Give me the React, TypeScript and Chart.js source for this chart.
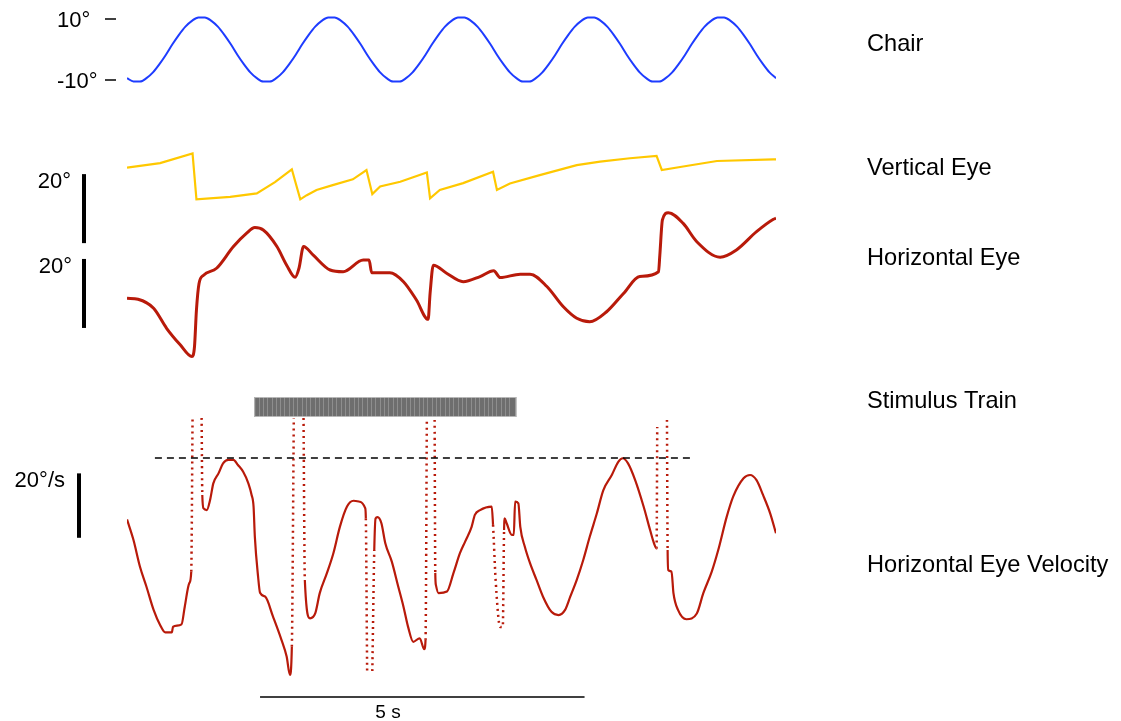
import React, { useEffect, useRef } from "react";
import { Chart, registerables } from "chart.js";

Chart.register(...registerables);

// ---------------- data ----------------
// time axis in seconds
const timeMin = 0;
const timeMax = 10;

// Chair position (deg), sampled every 0.1 s
const chairStep = 0.1;
const chairDeg = [
  -9.4, -10.5, -10.5, -9.4, -7.5, -4.8, -1.7, 1.7, 4.8, 7.5, 9.4, 10.5, 10.5, 9.4, 7.5, 4.8, 1.7, -1.7, -4.8, -7.5,
  -9.4, -10.5, -10.5, -9.4, -7.5, -4.8, -1.7, 1.7, 4.8, 7.5, 9.4, 10.5, 10.5, 9.4, 7.5, 4.8, 1.7, -1.7, -4.8, -7.5,
  -9.4, -10.5, -10.5, -9.4, -7.5, -4.8, -1.7, 1.7, 4.8, 7.5, 9.4, 10.5, 10.5, 9.4, 7.5, 4.8, 1.7, -1.7, -4.8, -7.5,
  -9.4, -10.5, -10.5, -9.4, -7.5, -4.8, -1.7, 1.7, 4.8, 7.5, 9.4, 10.5, 10.5, 9.4, 7.5, 4.8, 1.7, -1.7, -4.8, -7.5,
  -9.4, -10.5, -10.5, -9.4, -7.5, -4.8, -1.7, 1.7, 4.8, 7.5, 9.4, 10.5, 10.5, 9.4, 7.5, 4.8, 1.7, -1.7, -4.8, -7.5,
  -9.4,
];
const chairTicks = [10, -10];

// Vertical eye position (deg)
const vertT = [0, 0.51, 1.01, 1.07, 1.59, 2.0, 2.28, 2.54, 2.59, 2.67, 2.77, 2.92, 3.17, 3.48, 3.69, 3.78, 3.9, 4.21, 4.62, 4.67, 4.82, 5.18, 5.64, 5.7, 5.9, 6.36, 6.93, 7.29, 7.75, 8.16, 8.24, 8.57, 9.09, 9.96, 10.0];
const vertDeg = [9.4, 10.7, 13.5, 0.2, 0.9, 1.9, 5.2, 8.9, 5.5, 0.2, 1.4, 2.9, 4.3, 6.0, 8.7, 1.7, 3.9, 5.3, 8.0, 0.5, 2.9, 4.9, 8.2, 2.9, 4.8, 7.2, 10.1, 11.1, 12.1, 12.8, 8.7, 9.7, 11.3, 11.8, 11.8];

// Horizontal eye position (deg)
const horT = [0, 0.17, 0.41, 0.61, 0.82, 1.0, 1.04, 1.07, 1.11, 1.18, 1.38, 1.64, 1.84, 1.97, 2.1, 2.31, 2.46, 2.59, 2.65, 2.72, 2.87, 3.13, 3.33, 3.64, 3.73, 3.77, 4.05, 4.26, 4.46, 4.64, 4.67, 4.72, 4.93, 5.18, 5.44, 5.65, 5.75, 6.06, 6.21, 6.47, 6.72, 6.93, 7.13, 7.39, 7.65, 7.9, 8.19, 8.21, 8.25, 8.34, 8.57, 8.78, 9.14, 9.39, 9.7, 9.96, 10.0];
const horDeg = [-2.4, -2.7, -5.3, -11.1, -15.9, -19.3, -16.4, -5.8, 1.9, 4.3, 6.3, 12.6, 16.4, 18.1, 17.4, 12.6, 7.2, 3.7, 6.3, 12.6, 10.1, 5.8, 5.3, 8.7, 8.7, 5.0, 5.0, 2.4, -2.9, -8.5, -1.0, 7.2, 4.8, 2.4, 3.9, 5.6, 3.6, 4.6, 4.6, 1.0, -4.8, -8.2, -9.2, -6.3, -1.0, 3.9, 5.3, 10.1, 20.3, 22.4, 19.3, 14.0, 9.5, 11.6, 16.9, 20.5, 20.8];

// Horizontal eye velocity (deg/s); null = off the displayed range
const velT = [
  0, 0.1, 0.2, 0.3, 0.41, 0.51, 0.59, 0.69, 0.71, 0.84, 0.89, 0.96, 0.99,
  1.01, 1.08, 1.15, 1.16,
  1.18, 1.23, 1.28, 1.33, 1.41, 1.48, 1.56, 1.64, 1.71, 1.79, 1.87, 1.92, 1.95, 1.97, 2.02, 2.05, 2.13, 2.25, 2.38, 2.46, 2.51, 2.54,
  2.57, 2.65, 2.72, 2.74,
  2.82, 2.9, 2.97, 3.08, 3.18, 3.28, 3.39, 3.49, 3.59, 3.67, 3.68,
  3.7, 3.74, 3.78, 3.81,
  3.83, 3.86, 3.92, 3.98, 4.08, 4.18, 4.26, 4.33, 4.41, 4.51, 4.58, 4.6,
  4.62, 4.68, 4.74, 4.75,
  4.76, 4.8, 4.93, 5.03, 5.13, 5.21, 5.31, 5.36, 5.44, 5.62, 5.64,
  5.68, 5.75, 5.79, 5.81,
  5.82, 5.85, 5.93, 5.96, 5.98, 6.03, 6.06, 6.13, 6.21, 6.31, 6.41, 6.54, 6.65, 6.75, 6.83, 6.93, 7.03, 7.13, 7.24, 7.34, 7.47, 7.57, 7.64, 7.72, 7.83, 7.96, 8.06, 8.12, 8.16,
  8.17, 8.25, 8.32, 8.33,
  8.34, 8.39, 8.42, 8.49, 8.62, 8.78, 8.88, 9.01, 9.11, 9.24, 9.34, 9.5, 9.6, 9.7, 9.8, 9.91, 10.0,
];
const velDegS: (number | null)[] = [
  6.7, 0.3, -8.0, -14.2, -21.4, -26.1, -28.4, -28.4, -26.6, -25.9, -20.4, -13.1, -9.5,
  38.2, null, 38.2, 14.3,
  10.1, 9.6, 12.7, 17.9, 21.0, 24.1, 25.2, 25.2, 23.6, 21.5, 17.9, 14.3, 10.7, 1.3, -11.1, -16.1, -17.3, -23.5, -30.7, -35.9, -41.6, -32.8,
  38.2, null, 38.2, -12.1,
  -24.0, -22.5, -16.2, -10.0, -3.8, 4.4, 10.7, 12.5, 12.2, 10.2, 7.0,
  -40.4, null, -40.4, -2.8,
  7.0, 7.4, 5.5, -0.7, -6.4, -14.2, -20.4, -26.6, -31.3, -30.2, -33.6, -30.7,
  37.6, null, 37.6, -9.9,
  -13.7, -16.2, -15.7, -10.0, -3.8, -0.2, 4.4, 8.1, 9.6, 10.7, 5.0,
  -12.1, -26.7, -26.7, 3.4,
  7.0, 5.5, 1.9, 1.9, 12.2, 11.7, 4.4, -1.8, -6.9, -12.1, -17.3, -22.0, -23.0, -21.4, -17.3, -12.1, -5.9, 1.3, 8.6, 15.8, 20.5, 24.6, 25.7, 24.1, 18.9, 10.7, 3.4, -0.7, -2.3,
  35.4, null, 37.6, -2.8,
  -9.0, -9.5, -16.2, -21.4, -24.3, -22.5, -16.2, -9.5, -2.8, 7.5, 13.8, 19.5, 20.5, 18.9, 14.3, 8.6, 2.4,
];
// quick-phase (saccade) intervals drawn dotted, seconds
const saccadeStart = [0.99, 2.54, 3.68, 4.6, 5.64, 8.16];
const saccadeEnd = [1.16, 2.74, 3.81, 4.75, 5.81, 8.33];

// threshold line (deg/s) and its time span
const velThreshold = 25.8;
const thresholdFrom = 0.43;
const thresholdTo = 8.73;

// stimulus train
const stimStart = 1.96;
const stimEnd = 6.0;
const stimRateHz = 15;

// scale bars
const timeBarStart = 2.05;
const timeBarLength = 5;
const timeBarLabel = "5 s";
const vertBar = [-12.5, 7.5];
const horBar = [-11, 9];
const velBar = [1, 21];
const vertBarLabel = "20°";
const horBarLabel = "20°";
const velBarLabel = "20°/s";

const traceLabels = ["Chair", "Vertical Eye", "Horizontal Eye", "Stimulus Train", "Horizontal Eye Velocity"];

// ---------------- layout ----------------
const W = 1121;
const H = 721;
const PLOT_LEFT = 127;
const PLOT_RIGHT = 776;
const band = (zeroPx: number, pxPerUnit: number) => ({
  min: (zeroPx - H) / pxPerUnit,
  max: zeroPx / pxPerUnit,
});
const RED = "#b81a0a";
const FONT = '"Liberation Sans", Arial, Helvetica, sans-serif';
const labelBaselines = [51, 175, 265, 408, 572];
const LABEL_X = 867;

const annotations = {
  id: "annotations",
  afterDatasetsDraw(chart: any) {
    const { ctx, scales } = chart;
    const xs = scales.x;
    ctx.save();
    ctx.fillStyle = "#000";
    ctx.strokeStyle = "#000";
    ctx.textBaseline = "alphabetic";

    // chair ticks
    ctx.font = `22px ${FONT}`;
    ctx.textAlign = "left";
    chairTicks.forEach((v) => {
      const y = scales.yChair.getPixelForValue(v);
      ctx.fillText(`${v}°`, 57, y + 8);
      ctx.lineWidth = 1.5;
      ctx.beginPath();
      ctx.moveTo(105, y);
      ctx.lineTo(116, y);
      ctx.stroke();
    });

    // vertical scale bars
    const bars: [any, number[], string, number, number][] = [
      [scales.yVert, vertBar, vertBarLabel, 84, 71],
      [scales.yHor, horBar, horBarLabel, 84, 72],
      [scales.yVel, velBar, velBarLabel, 79, 65],
    ];
    ctx.textAlign = "right";
    bars.forEach(([sc, range, label, bx, lx]) => {
      const y0 = sc.getPixelForValue(range[1]);
      const y1 = sc.getPixelForValue(range[0]);
      ctx.fillRect(bx - 2, y0, 4, y1 - y0);
      ctx.fillText(label, lx, y0 + 14);
    });

    // threshold dashed line
    const ty = scales.yVel.getPixelForValue(velThreshold);
    ctx.setLineDash([7, 5]);
    ctx.lineWidth = 1.5;
    ctx.beginPath();
    ctx.moveTo(xs.getPixelForValue(thresholdFrom), ty);
    ctx.lineTo(xs.getPixelForValue(thresholdTo), ty);
    ctx.stroke();
    ctx.setLineDash([]);

    // stimulus train
    const sx0 = xs.getPixelForValue(stimStart);
    const sx1 = xs.getPixelForValue(stimEnd);
    const sTop = 397;
    const sBot = 417;
    ctx.fillStyle = "#6e6e6e";
    ctx.fillRect(sx0, sTop, sx1 - sx0, sBot - sTop);
    ctx.strokeStyle = "rgba(170,170,170,0.55)";
    ctx.lineWidth = 1;
    const n = Math.floor((stimEnd - stimStart) * stimRateHz);
    for (let i = 1; i < n; i++) {
      const px = Math.round(xs.getPixelForValue(stimStart + i / stimRateHz)) + 0.5;
      ctx.beginPath();
      ctx.moveTo(px, sTop);
      ctx.lineTo(px, sBot);
      ctx.stroke();
    }
    ctx.strokeStyle = "rgba(200,200,200,0.8)";
    ctx.strokeRect(sx0 + 0.5, sTop + 0.5, sx1 - sx0 - 1, sBot - sTop - 1);

    // time scale bar
    ctx.strokeStyle = "#000";
    ctx.fillStyle = "#000";
    ctx.lineWidth = 1.5;
    const bx0 = xs.getPixelForValue(timeBarStart);
    const bx1 = xs.getPixelForValue(timeBarStart + timeBarLength);
    ctx.beginPath();
    ctx.moveTo(bx0, 697);
    ctx.lineTo(bx1, 697);
    ctx.stroke();
    ctx.font = `19px ${FONT}`;
    ctx.textAlign = "center";
    ctx.fillText(timeBarLabel, 388, 718);

    // trace labels
    ctx.font = `23.6px ${FONT}`;
    ctx.textAlign = "left";
    traceLabels.forEach((t, i) => ctx.fillText(t, LABEL_X, labelBaselines[i]));
    ctx.restore();
  },
};

export default function App() {
  const ref = useRef<HTMLCanvasElement | null>(null);
  useEffect(() => {
    if (!ref.current) return;
    const inSaccade = (a: number, b: number) =>
      saccadeStart.some((s, i) => a >= s - 1e-6 && b <= saccadeEnd[i] + 1e-6);
    const chart = new Chart(ref.current, {
      type: "line",
      data: {
        datasets: [
          {
            label: "Chair",
            data: chairDeg.map((v, i) => ({ x: i * chairStep, y: v })),
            yAxisID: "yChair",
            borderColor: "#1e3cff",
            borderWidth: 2,
            pointRadius: 0,
            cubicInterpolationMode: "monotone",
          },
          {
            label: "Vertical Eye",
            data: vertT.map((t, i) => ({ x: t, y: vertDeg[i] })),
            yAxisID: "yVert",
            borderColor: "#ffc800",
            borderWidth: 2.2,
            pointRadius: 0,
          },
          {
            label: "Horizontal Eye",
            data: horT.map((t, i) => ({ x: t, y: horDeg[i] })),
            yAxisID: "yHor",
            borderColor: RED,
            borderWidth: 3,
            pointRadius: 0,
            cubicInterpolationMode: "monotone",
          },
          {
            label: "Horizontal Eye Velocity",
            data: velT.map((t, i) => ({ x: t, y: velDegS[i] })) as any,
            yAxisID: "yVel",
            borderColor: RED,
            borderWidth: 2.2,
            pointRadius: 0,
            spanGaps: false,
            cubicInterpolationMode: "monotone",
            segment: {
              borderDash: (c: any) =>
                inSaccade(c.p0.parsed.x, c.p1.parsed.x) ? [2, 4] : undefined,
              borderWidth: (c: any) =>
                inSaccade(c.p0.parsed.x, c.p1.parsed.x) ? 2.5 : undefined,
            },
          },
        ],
      },
      options: {
        responsive: false,
        animation: false,
        events: [],
        layout: { padding: { left: PLOT_LEFT, right: W - PLOT_RIGHT, top: 0, bottom: 0 } },
        plugins: { legend: { display: false }, tooltip: { enabled: false } },
        scales: {
          x: { type: "linear", min: timeMin, max: timeMax, display: false, bounds: "data" },
          yChair: { type: "linear", display: false, bounds: "data", ...band(49.5, 3.05) },
          yVert: { type: "linear", display: false, bounds: "data", ...band(200, 3.45) },
          yHor: { type: "linear", display: false, bounds: "data", ...band(290, 3.45) },
          yVel: { type: "linear", display: false, bounds: "data", ...band(541, 3.22) },
        },
      } as any,
      plugins: [annotations],
    });
    return () => chart.destroy();
  }, []);
  return (
    <div style={{ position: "absolute", left: 0, top: 0, width: W, height: H, background: "#fff" }}>
      <canvas ref={ref} width={W} height={H} style={{ display: "block" }} />
    </div>
  );
}
